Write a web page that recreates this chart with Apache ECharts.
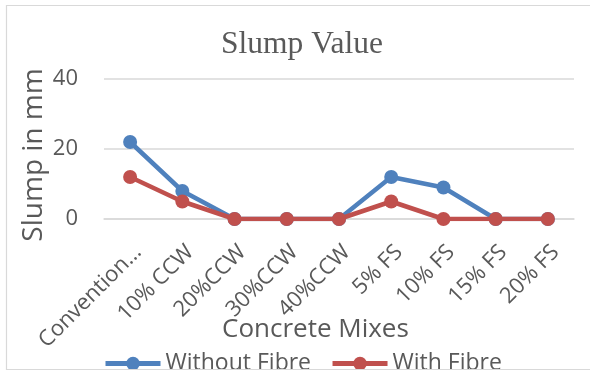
<!DOCTYPE html>
<html>
<head>
<meta charset="utf-8">
<script src="https://cdn.jsdelivr.net/npm/echarts@6/dist/echarts.min.js"></script>
<style>
  html, body { margin: 0; padding: 0; background: #ffffff; }
  #chart { width: 590px; height: 373px; }
</style>
</head>
<body>
<div id="chart"></div>
<script>
// Concrete mixes and their slump readings (mm)
const mixes = ['Conventional Concrete', '10% CCW', '20%CCW', '30%CCW', '40%CCW', '5% FS', '10% FS', '15% FS', '20% FS'];
const withoutFibre = [22, 8, 0, 0, 0, 12, 9, 0, 0];
const withFibre = [12, 5, 0, 0, 0, 5, 0, 0, 0];
const yTicks = [0, 20, 40];

const textGrey = '#595959';
const sans = '"Open Sans", "Noto Sans", sans-serif';

const chart = echarts.init(document.getElementById('chart'), null, { renderer: 'canvas' });

chart.setOption({
  backgroundColor: '#ffffff',
  animation: false,
  title: {
    text: 'Slump Value',
    left: 216,
    top: 24,
    textStyle: {
      fontFamily: '"Liberation Serif", "Times New Roman", serif',
      fontSize: 31.5,
      fontWeight: 'normal',
      color: textGrey
    }
  },
  grid: { left: 104, right: 16, top: 79, bottom: 154, containLabel: false },
  legend: {
    left: 98,
    top: 347,
    itemWidth: 55,
    itemHeight: 17,
    itemGap: 19,
    lineStyle: { width: 5 },
    textStyle: { fontFamily: sans, fontSize: 23, color: textGrey },
    data: ['Without Fibre', 'With Fibre']
  },
  xAxis: {
    type: 'category',
    data: mixes,
    boundaryGap: true,
    axisLine: { show: true, lineStyle: { color: '#d9d9d9', width: 1.5 } },
    axisTick: { show: false },
    axisLabel: {
      rotate: 45,
      margin: 22,
      align: 'right',
      verticalAlign: 'top',
      fontFamily: sans,
      fontSize: 22,
      color: textGrey,
      interval: 0,
      width: 138,
      overflow: 'truncate',
      ellipsis: '…'
    }
  },
  yAxis: {
    type: 'value',
    min: yTicks[0],
    max: yTicks[yTicks.length - 1],
    interval: yTicks[1] - yTicks[0],
    axisLine: { show: false },
    axisTick: { show: false },
    splitLine: { lineStyle: { color: '#d9d9d9', width: 1.5 } },
    axisLabel: { margin: 26, fontFamily: sans, fontSize: 22, color: textGrey }
  },
  graphic: [
    {
      type: 'text',
      left: 222,
      top: 317,
      style: { text: 'Concrete Mixes', font: '26px "Open Sans", sans-serif', fill: textGrey }
    },
    {
      type: 'text',
      rotation: Math.PI / 2,
      x: 34,
      y: 155,
      style: {
        text: 'Slump in mm',
        font: '28px "Open Sans", sans-serif',
        fill: textGrey,
        align: 'center',
        verticalAlign: 'middle'
      }
    },
    {
      type: 'rect',
      z: 100,
      shape: { x: 0, y: 369.5, width: 590, height: 4 },
      style: { fill: '#ffffff' }
    },
    {
      type: 'polyline',
      z: 101,
      shape: { points: [[590, 5.5], [6.5, 5.5], [6.5, 369.5], [590, 369.5]] },
      style: { stroke: '#d9d9d9', lineWidth: 1.2, fill: null }
    }
  ],
  series: [
    {
      name: 'Without Fibre',
      type: 'line',
      data: withoutFibre,
      color: '#4f81bd',
      symbol: 'circle',
      symbolSize: 14,
      lineStyle: { width: 4.5 },
      z: 3
    },
    {
      name: 'With Fibre',
      type: 'line',
      data: withFibre,
      color: '#c0504d',
      symbol: 'circle',
      symbolSize: 14,
      lineStyle: { width: 4.5 },
      z: 4
    }
  ]
});
</script>
</body>
</html>
